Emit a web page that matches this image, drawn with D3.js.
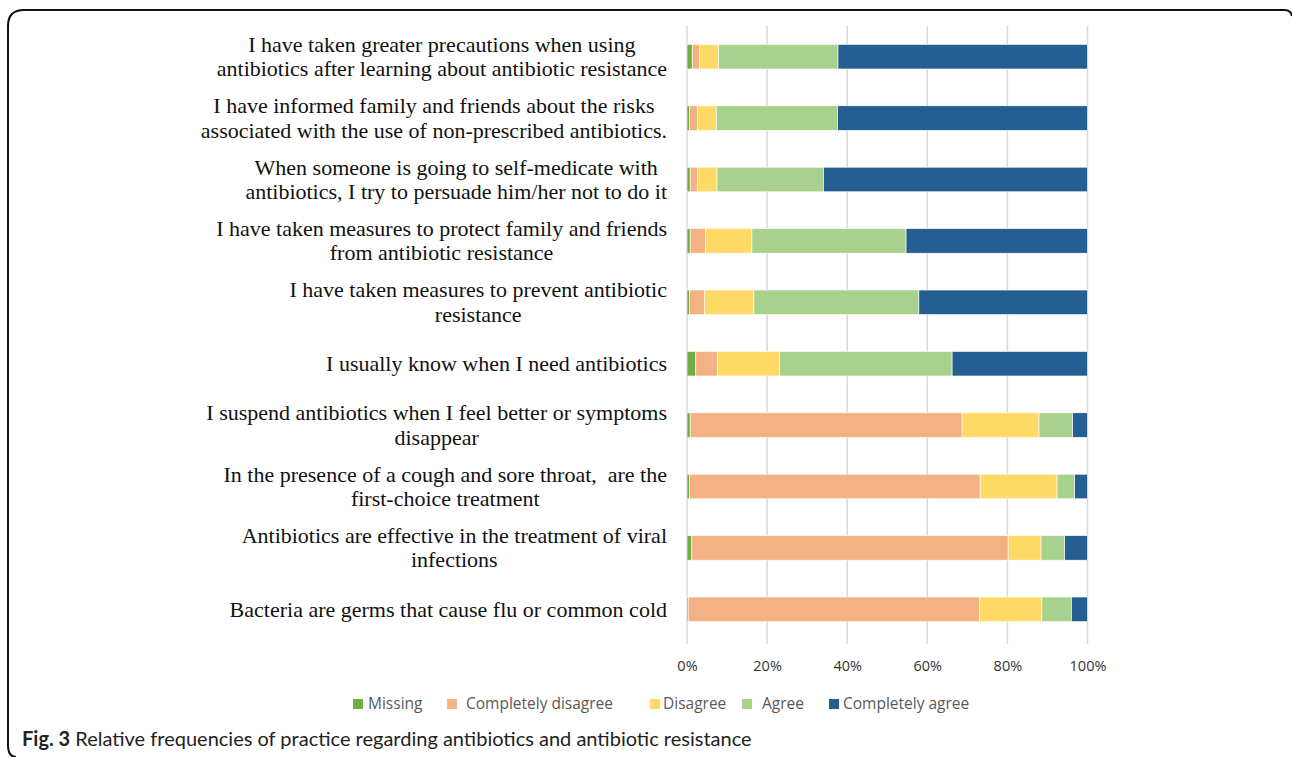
<!DOCTYPE html>
<html><head><meta charset="utf-8">
<script src="https://cdn.jsdelivr.net/npm/d3@7"></script>
<style>body{margin:0;background:#fff}svg{display:block}</style>
</head><body>
<svg id="chart" width="1292" height="757"></svg>
<script>
const categories = [
  ["I have taken greater precautions when using", "antibiotics after learning about antibiotic resistance"],
  ["I have informed family and friends about the risks", "associated with the use of non-prescribed antibiotics."],
  ["When someone is going to self-medicate with", "antibiotics, I try to persuade him/her not to do it"],
  ["I have taken measures to protect family and friends", "from antibiotic resistance"],
  ["I have taken measures to prevent antibiotic", "resistance"],
  ["I usually know when I need antibiotics"],
  ["I suspend antibiotics when I feel better or symptoms", "disappear"],
  ["In the presence of a cough and sore throat,  are the", "first-choice treatment"],
  ["Antibiotics are effective in the treatment of viral", "infections"],
  ["Bacteria are germs that cause flu or common cold"]
];
const seriesNames = ["Missing", "Completely disagree", "Disagree", "Agree", "Completely agree"];
const missing            = [1.3, 0.6, 0.8, 0.8, 0.6, 2.2, 0.8, 0.6, 1.2, 0.3];
const completelyDisagree = [1.8, 2.0, 1.8, 3.8, 3.8, 5.4, 67.9, 72.6, 79.0, 72.8];
const disagree           = [4.8, 4.7, 4.9, 11.6, 12.3, 15.5, 19.2, 19.2, 8.2, 15.5];
const agree              = [29.8, 30.3, 26.6, 38.5, 41.2, 43.1, 8.4, 4.4, 5.9, 7.4];
const completelyAgree    = [62.3, 62.4, 65.9, 45.3, 42.1, 33.8, 3.7, 3.2, 5.7, 4.0];
const xTicks = [0, 20, 40, 60, 80, 100];
const colors = ["#70AD47", "#F4B183", "#FFD966", "#A9D18E", "#255E91"];

const svg = d3.select("#chart");
const x = d3.scaleLinear().domain([0, 100]).range([687, 1087.5]);
const y = d3.scaleBand().domain(d3.range(categories.length)).range([26, 640]).paddingInner(0.6).paddingOuter(0.3);

// frame
svg.append("path")
  .attr("d", "M 16,757 Q 8,757 8,745 L 8,26 Q 8,10 24,10 L 1284,10 Q 1291,10 1292,16")
  .attr("fill", "none").attr("stroke", "#111").attr("stroke-width", 2);

// gridlines
svg.append("g").selectAll("line").data(xTicks).join("line")
  .attr("x1", d => x(d)).attr("x2", d => x(d))
  .attr("y1", 26).attr("y2", 644)
  .attr("stroke", "#d9d9d9").attr("stroke-width", 1.5);

// stacked bars
const stackData = categories.map((c, i) => {
  const vals = [missing[i], completelyDisagree[i], disagree[i], agree[i], completelyAgree[i]];
  const o = {i};
  seriesNames.forEach((s, k) => o[s] = vals[k]);
  return o;
});
const stacked = d3.stack().keys(seriesNames)(stackData);
svg.append("g").selectAll("g").data(stacked).join("g")
  .attr("fill", (d, k) => colors[k])
  .selectAll("rect").data(d => d).join("rect")
  .attr("x", d => x(d[0]))
  .attr("width", d => Math.max(0, x(d[1]) - x(d[0])))
  .attr("y", d => y(d.data.i))
  .attr("height", y.bandwidth())
  .attr("stroke", "#fff").attr("stroke-width", 0.6);

// x axis labels
const xAxis = d3.axisBottom(x).tickValues(xTicks).tickFormat(d => d + "%").tickSize(0);
const xg = svg.append("g").attr("transform", "translate(0,658)").call(xAxis);
xg.select(".domain").remove();
xg.selectAll("text").attr("font-family", "Open Sans, sans-serif").attr("font-size", 14.5).attr("fill", "#333").attr("dy", "0.71em");

// category labels (centered block, right-aligned to 667)
const lab = svg.append("g").attr("font-family", "Liberation Serif, Times New Roman, serif").attr("font-size", 22).attr("fill", "#111");
categories.forEach((lines, i) => {
  const cy = y(i) + y.bandwidth() / 2;
  const t = lab.append("text").attr("text-anchor", "middle").attr("xml:space", "preserve");
  const lh = 24.5;
  lines.forEach((ln, j) => {
    t.append("tspan").attr("x", 0).attr("y", cy + (j - (lines.length - 1) / 2) * lh).attr("dy", "0.33em").text(ln);
  });
  let maxW = 0;
  t.selectAll("tspan").each(function(){ maxW = Math.max(maxW, this.getComputedTextLength()); });
  t.selectAll("tspan").attr("x", 667 - maxW / 2);
});

// legend
const legSq = [353, 447, 650, 742, 829];
const legTx = [368, 466, 663, 762, 843];
const lg = svg.append("g").attr("font-family", "Open Sans, sans-serif").attr("font-size", 15.5).attr("fill", "#595959");
seriesNames.forEach((s, k) => {
  lg.append("rect").attr("x", legSq[k]).attr("y", 699).attr("width", 10).attr("height", 10).attr("fill", colors[k]);
  lg.append("text").attr("x", legTx[k]).attr("y", 704).attr("dy", "0.35em").text(s);
});

// caption
const cap = svg.append("text").attr("x", 22).attr("y", 746).attr("font-family", "Lato, sans-serif").attr("font-size", 20).attr("fill", "#222");
cap.append("tspan").attr("font-weight", "bold").text("Fig. 3");
cap.append("tspan").text(" Relative frequencies of practice regarding antibiotics and antibiotic resistance");
</script>
</body></html>
